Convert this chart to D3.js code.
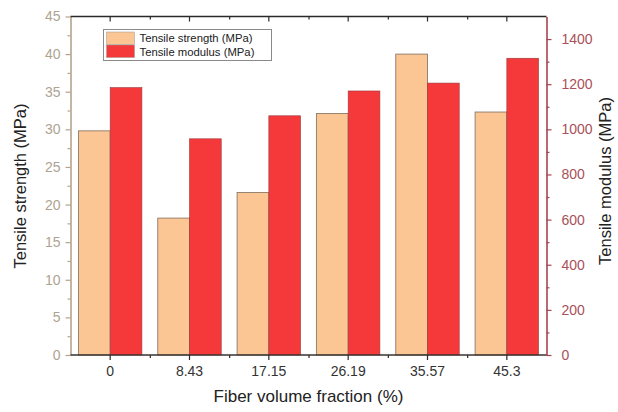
<!DOCTYPE html>
<html>
<head>
<meta charset="utf-8">
<script src="https://cdn.jsdelivr.net/npm/d3@7"></script>
<style>
  html, body { margin: 0; padding: 0; background: #fff; }
  svg { display: block; font-family: "Liberation Sans", Arial, sans-serif; }
</style>
</head>
<body>
<svg id="chart" width="618" height="412"></svg>
<script>
// Fiber volume fraction groups
const categories = ["0", "8.43", "17.15", "26.19", "35.57", "45.3"];
// Tensile strength (MPa), left axis
const strength = [29.8, 18.2, 21.6, 32.1, 40.0, 32.3];
// Tensile modulus (MPa), right axis
const modulus = [1185, 958, 1060, 1170, 1205, 1315];
const seriesNames = ["Tensile strength (MPa)", "Tensile modulus (MPa)"];
const leftTicks = [0, 5, 10, 15, 20, 25, 30, 35, 40, 45];
const rightTicks = [0, 200, 400, 600, 800, 1000, 1200, 1400];

const svg = d3.select("#chart");
const m = { left: 70.5, right: 546.5, top: 16.5, bottom: 355 };

const colStrength = "#fcc594";
const colModulus = "#f5393b";
const leftColor = "#b6a38c";
const leftText = "#aea392";
const rightColor = "#a8444e";
const rightText = "#a9505a";

const x = d3.scaleBand().domain(categories).range([m.left, m.right])
  .paddingInner(0.2).paddingOuter(0.1);
const xs = d3.scaleBand().domain([0, 1]).range([0, x.bandwidth()]);
const yL = d3.scaleLinear().domain([0, 45]).range([m.bottom, m.top]);
const yR = d3.scaleLinear().domain([0, 1500]).range([m.bottom, m.top]);

// Bars
const g = svg.append("g");
categories.forEach((c, i) => {
  g.append("rect")
    .attr("x", x(c) + xs(0)).attr("width", xs.bandwidth())
    .attr("y", yL(strength[i])).attr("height", yL(0) - yL(strength[i]))
    .attr("fill", colStrength).attr("stroke", "#8c7a68").attr("stroke-width", 0.9);
  g.append("rect")
    .attr("x", x(c) + xs(1)).attr("width", xs.bandwidth())
    .attr("y", yR(modulus[i])).attr("height", yR(0) - yR(modulus[i]))
    .attr("fill", colModulus).attr("stroke", "#9a3a3a").attr("stroke-width", 0.6);
});

const tickFont = "14px";

// Left axis
const la = svg.append("g").attr("transform", `translate(${m.left},0)`)
  .call(d3.axisLeft(yL).tickValues(leftTicks).tickSize(5).tickPadding(5).tickSizeOuter(0));
la.select(".domain").attr("stroke", leftColor).attr("stroke-width", 1.6);
la.selectAll(".tick line").attr("stroke", leftColor).attr("stroke-width", 1.2);
la.selectAll(".tick text").attr("fill", leftText).style("font-size", tickFont)
  .style("font-family", "Liberation Sans, Arial, sans-serif");
svg.append("g").attr("transform", `translate(${m.left},0)`)
  .call(d3.axisLeft(yL).tickValues(d3.range(2.5, 45, 5)).tickSize(3).tickFormat("").tickSizeOuter(0))
  .call(s => s.select(".domain").remove())
  .selectAll(".tick line").attr("stroke", leftColor).attr("stroke-width", 1.2);

// Right axis
const ra = svg.append("g").attr("transform", `translate(${m.right},0)`)
  .call(d3.axisRight(yR).tickValues(rightTicks).tickFormat(d3.format("d"))
    .tickSize(5).tickPadding(10).tickSizeOuter(0));
ra.select(".domain").attr("stroke", rightColor).attr("stroke-width", 1.6);
ra.selectAll(".tick line").attr("stroke", rightColor).attr("stroke-width", 1.2);
ra.selectAll(".tick text").attr("fill", rightText).style("font-size", tickFont)
  .style("font-family", "Liberation Sans, Arial, sans-serif");
svg.append("g").attr("transform", `translate(${m.right},0)`)
  .call(d3.axisRight(yR).tickValues(d3.range(100, 1500, 200)).tickSize(3).tickFormat("").tickSizeOuter(0))
  .call(s => s.select(".domain").remove())
  .selectAll(".tick line").attr("stroke", rightColor).attr("stroke-width", 1.2);

// Category boundaries for minor ticks
const step = x.step();
const bounds = categories.slice(0, -1).map(c => x(c) + x.bandwidth() / 2 + step / 2);
const centerScale = d3.scaleLinear().domain([m.left, m.right]).range([m.left, m.right]);

// Bottom axis
const ba = svg.append("g").attr("transform", `translate(0,${m.bottom})`)
  .call(d3.axisBottom(x).tickSize(5).tickPadding(6).tickSizeOuter(0));
ba.select(".domain").attr("stroke", "#3a3330").attr("stroke-width", 1.6)
  .attr("d", `M${m.left},0H${m.right}`);
ba.selectAll(".tick line").attr("stroke", "#2a2a2a").attr("stroke-width", 1.2);
ba.selectAll(".tick text").attr("fill", "#333").style("font-size", tickFont)
  .style("font-family", "Liberation Sans, Arial, sans-serif");
svg.append("g").attr("transform", `translate(0,${m.bottom})`)
  .call(d3.axisBottom(centerScale).tickValues(bounds).tickSize(3).tickFormat(""))
  .call(s => s.select(".domain").remove())
  .selectAll(".tick line").attr("stroke", "#2a2a2a").attr("stroke-width", 1.2);

// Top axis (ticks inward)
const ta = svg.append("g").attr("transform", `translate(0,${m.top})`)
  .call(d3.axisBottom(x).tickSize(5).tickFormat("").tickSizeOuter(0));
ta.select(".domain").attr("stroke", "#2a2a2a").attr("stroke-width", 1.6)
  .attr("d", `M${m.left},0H${m.right}`);
ta.selectAll(".tick line").attr("stroke", "#2a2a2a").attr("stroke-width", 1.2);
svg.append("g").attr("transform", `translate(0,${m.top})`)
  .call(d3.axisBottom(centerScale).tickValues(bounds).tickSize(3).tickFormat(""))
  .call(s => s.select(".domain").remove())
  .selectAll(".tick line").attr("stroke", "#2a2a2a").attr("stroke-width", 1.2);

// Axis titles
svg.append("text")
  .attr("transform", `translate(26,186) rotate(-90)`)
  .attr("text-anchor", "middle").attr("fill", "#222")
  .style("font-size", "16.5px").text("Tensile strength (MPa)");
svg.append("text")
  .attr("transform", `translate(611,181) rotate(-90)`)
  .attr("text-anchor", "middle").attr("fill", "#222")
  .style("font-size", "16.5px").text("Tensile modulus (MPa)");
svg.append("text")
  .attr("x", (m.left + m.right) / 2).attr("y", 402)
  .attr("text-anchor", "middle").attr("fill", "#222")
  .style("font-size", "17px").text("Fiber volume fraction (%)");

// Legend
const lg = svg.append("g").attr("transform", "translate(103.5,29.5)");
lg.append("rect").attr("width", 168).attr("height", 31)
  .attr("fill", "#fff").attr("stroke", "#8a8a8a").attr("stroke-width", 1);
[colStrength, colModulus].forEach((col, i) => {
  lg.append("rect").attr("x", 3).attr("y", 2.5 + i * 13).attr("width", 28).attr("height", 12.5)
    .attr("fill", col).attr("stroke", "#999").attr("stroke-width", 0.5);
  lg.append("text").attr("x", 36).attr("y", 12.5 + i * 13.5)
    .attr("fill", "#222").style("font-size", "11.3px").text(seriesNames[i]);
});
</script>
</body>
</html>
